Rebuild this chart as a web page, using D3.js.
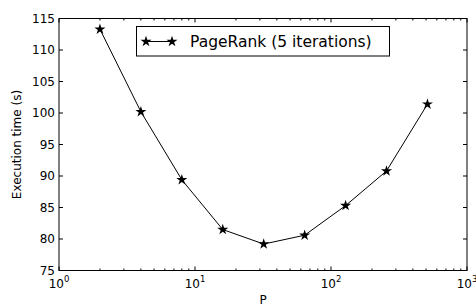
<!DOCTYPE html>
<html>
<head>
<meta charset="utf-8">
<script src="https://cdn.jsdelivr.net/npm/d3@7"></script>
<style>
  body { margin: 0; background: #fff; }
  text { font-family: "DejaVu Sans", sans-serif; fill: #000; }
</style>
</head>
<body>
<svg id="chart" width="476" height="307"></svg>
<script>
const procs = [2, 4, 8, 16, 32, 64, 128, 256, 512];
const times = [113.3, 100.2, 89.4, 81.5, 79.2, 80.6, 85.3, 90.8, 101.4];
const yTicks = [75, 80, 85, 90, 95, 100, 105, 110, 115];
const xDecades = [0, 1, 2, 3];
const seriesName = "PageRank (5 iterations)";

const svg = d3.select("#chart");
const margin = { left: 59, top: 18.5, right: 9, bottom: 36.5 };
const width = 476, height = 307;

const x = d3.scaleLog().domain([1, 1000]).range([margin.left, width - margin.right]);
const y = d3.scaleLinear().domain([75, 115]).range([height - margin.bottom, margin.top]);

const x0 = x.range()[0], x1 = x.range()[1];
const y0 = y.range()[0], y1 = y.range()[1];

// minor ticks for log axis
const minor = [];
for (let d = 0; d < 3; d++) for (let k = 2; k <= 9; k++) minor.push(k * Math.pow(10, d));

const g = svg.append("g");

// ticks (inward, all four sides)
xDecades.forEach(d => {
  const xv = x(Math.pow(10, d));
  g.append("line").attr("x1", xv).attr("x2", xv).attr("y1", y0).attr("y2", y0 - 4).attr("stroke", "#000");
  g.append("line").attr("x1", xv).attr("x2", xv).attr("y1", y1).attr("y2", y1 + 4).attr("stroke", "#000");
});
minor.forEach(v => {
  const xv = x(v);
  g.append("line").attr("x1", xv).attr("x2", xv).attr("y1", y0).attr("y2", y0 - 2).attr("stroke", "#000");
  g.append("line").attr("x1", xv).attr("x2", xv).attr("y1", y1).attr("y2", y1 + 2).attr("stroke", "#000");
});
yTicks.forEach(t => {
  const yv = y(t);
  g.append("line").attr("x1", x0).attr("x2", x0 + 4).attr("y1", yv).attr("y2", yv).attr("stroke", "#000");
  g.append("line").attr("x1", x1).attr("x2", x1 - 4).attr("y1", yv).attr("y2", yv).attr("stroke", "#000");
  g.append("text").attr("x", x0 - 4).attr("y", yv).attr("dy", "0.36em")
    .attr("text-anchor", "end").attr("font-size", 12).text(t);
});

// x tick labels 10^d
xDecades.forEach(d => {
  const t = g.append("text").attr("x", x(Math.pow(10, d))).attr("y", y0 + 17)
    .attr("text-anchor", "middle").attr("font-size", 12);
  t.append("tspan").text("10");
  t.append("tspan").attr("dy", -6).attr("font-size", 8.5).text(d);
});

// frame
g.append("rect").attr("x", x0).attr("y", y1).attr("width", x1 - x0).attr("height", y0 - y1)
  .attr("fill", "none").attr("stroke", "#000").attr("stroke-width", 1);

// axis labels
g.append("text").attr("x", (x0 + x1) / 2).attr("y", 304).attr("text-anchor", "middle")
  .attr("font-size", 12).text("P");
g.append("text").attr("transform", `translate(21,${(y0 + y1) / 2}) rotate(-90)`)
  .attr("text-anchor", "middle").attr("font-size", 12).text("Execution time (s)");

// data line
const data = procs.map((p, i) => ({ p, t: times[i] }));
const line = d3.line().x(d => x(d.p)).y(d => y(d.t));
g.append("path").datum(data).attr("d", line).attr("fill", "none").attr("stroke", "#000").attr("stroke-width", 1);

const star = d3.symbol().type(d3.symbolStar).size(38);
g.selectAll(".pt").data(data).enter().append("path")
  .attr("class", "pt").attr("d", star)
  .attr("transform", d => `translate(${x(d.p)},${y(d.t)})`)
  .attr("fill", "#000");

// legend
const lg = g.append("g");
lg.append("rect").attr("x", 136.5).attr("y", 26.5).attr("width", 253).attr("height", 29.5)
  .attr("fill", "#fff").attr("stroke", "#000");
lg.append("line").attr("x1", 146).attr("x2", 172).attr("y1", 41.5).attr("y2", 41.5).attr("stroke", "#000");
[146, 172].forEach(cx => lg.append("path").attr("d", star).attr("transform", `translate(${cx},41.5)`).attr("fill", "#000"));
lg.append("text").attr("x", 190).attr("y", 41.5).attr("dy", "0.36em").attr("font-size", 15.5).text(seriesName);
</script>
</body>
</html>
